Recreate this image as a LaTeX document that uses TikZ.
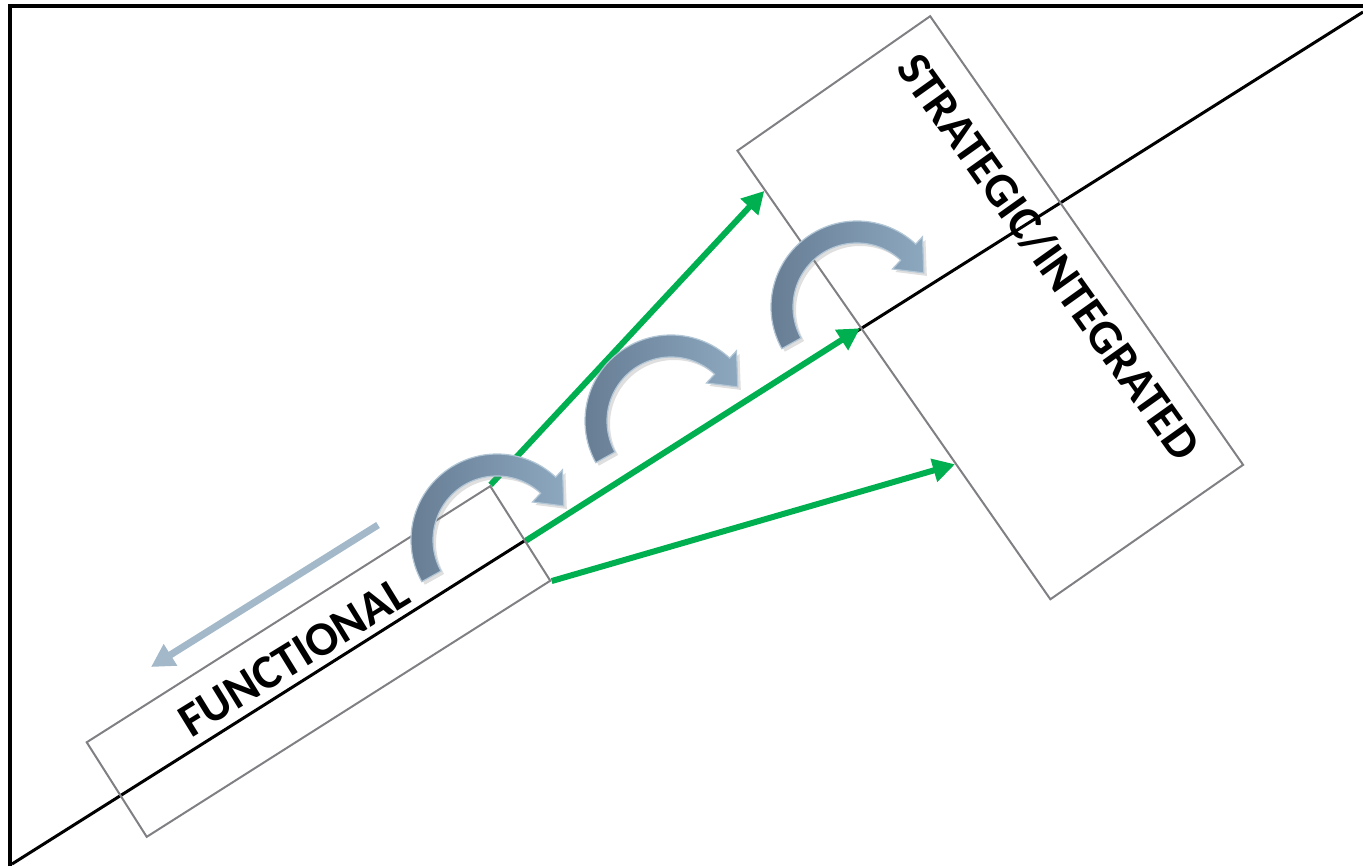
\documentclass[tikz,border=0pt]{standalone}
\usepackage{fontspec}
\newfontfamily\labelfont{Carlito}
\usepackage{tikz}
\usetikzlibrary{arrows.meta,calc,shadows}
\definecolor{boxgray}{RGB}{128,128,132}
\definecolor{steelgreen}{RGB}{0,176,80}
\definecolor{backblue}{RGB}{163,185,201}
\definecolor{arrdark}{RGB}{100,122,145}
\definecolor{arrlight}{RGB}{140,168,191}
\definecolor{arredge}{RGB}{178,198,214}

\begin{document}
\begin{tikzpicture}[x=0.5pt,y=-0.5pt,boxnode/.style={draw=boxgray,line width=1pt,inner sep=0pt},labelnode/.style={font=\labelfont\bfseries\fontsize{24}{28}\selectfont,inner sep=0pt},greenarrow/.style={draw=steelgreen,line width=3pt,-{Triangle[length=11pt,width=11.5pt]}},turnarrow/.style={draw=arredge,line width=0.6pt,left color=arrdark,right color=arrlight,drop shadow={opacity=0.25,shadow xshift=1.5pt,shadow yshift=-1.5pt}}]
		\useasboundingbox (0,0) rectangle (1363,866);
		\draw[line width=2pt] (10,866) -- (10,6) -- (1363,6);
		\coordinate (lo) at (12,864);
		\coordinate (hi) at (1363,12);
		\draw[line width=1.5pt] (lo) -- (hi);
		\node [boxnode, rotate=32.4, minimum width=239pt, minimum height=56pt] (func) at (318.5,661.5) {};
		\node [boxnode, rotate=-55.1, minimum width=273.5pt, minimum height=117.5pt] (strat) at (990.25,307.75) {};
		\draw[greenarrow] (func.north east) -- ($(strat.south west)!0.09!(strat.south east)$);
		\draw[greenarrow] ($(func.north east)!0.58!(func.south east)$) -- ($(strat.south west)!0.395!(strat.south east)$);
		\draw[greenarrow] (func.south east) -- ($(strat.south west)!0.697!(strat.south east)$);
		\coordinate (back1) at (378,525);
		\coordinate (back2) at (151,667);
		\draw[draw=backblue,line width=3.5pt,-{Triangle[length=11.5pt,width=12pt]}] (back1) -- (back2);
		\foreach \cx/\cy in {497/540,671/421,857/307}
			\draw[turnarrow,shift={(\cx,\cy)}] (-209:86) arc[start angle=-209,end angle=-47,radius=86] -- (-47:96) -- (-27:75) -- (-47:52) -- (-47:64) arc[start angle=-47,end angle=-209,radius=64] -- cycle;
		\node [labelnode, rotate=31.6, anchor=base] (functxt) at (302,670) {FUNCTIONAL};
		\node [labelnode, rotate=-54.5, anchor=base] (strattxt) at (1036,266) {STRATEGIC/INTEGRATED};
	\end{tikzpicture}
\end{document}
